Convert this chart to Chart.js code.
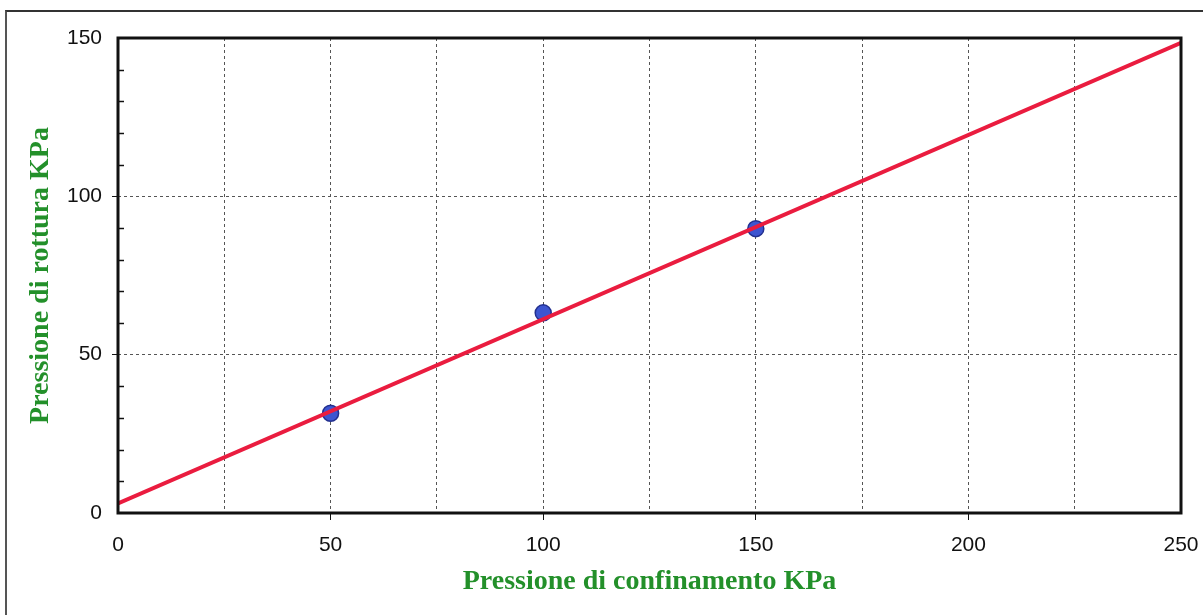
<!DOCTYPE html>
<html>
<head>
<meta charset="utf-8">
<script src="https://cdn.jsdelivr.net/npm/chart.js@4.4.1/dist/chart.umd.min.js"></script>
<style>
  body { margin: 0; background: #fff; overflow: hidden; }
  #wrap { position: relative; width: 1203px; height: 615px; }
  #frame { position: absolute; left: 5px; top: 10px; width: 1300px; height: 700px;
           border-left: 2px solid #555; border-top: 2px solid #333; }
  canvas { position: absolute; left: 0; top: 0; }
</style>
</head>
<body>
<div id="wrap">
  <div id="frame"></div>
  <canvas id="chart" width="1203" height="615"></canvas>
</div>
<script>
// measured points
const confinamento = [50, 100, 150];
const rottura = [31.5, 63.2, 89.8];
// fitted line, end points
const lineX = [0, 250];
const lineY = [3, 148.5];

const xTitle = "Pressione di confinamento KPa";
const yTitle = "Pressione di rottura KPa";

const green = "#23902a";

// box round the plot + small ticks on the y axis
const framePlugin = {
  id: "framePlugin",
  afterDraw(chart) {
    const ctx = chart.ctx;
    const a = chart.chartArea;
    const y = chart.scales.y;
    ctx.save();
    ctx.strokeStyle = "#111";
    ctx.lineWidth = 1.5;
    for (let v = 10; v < 150; v += 10) {
      if (v % 50 === 0) continue;
      const py = Math.round(y.getPixelForValue(v)) + 0.5;
      ctx.beginPath();
      ctx.moveTo(a.left, py);
      ctx.lineTo(a.left + 6, py);
      ctx.stroke();
    }
    ctx.lineWidth = 3;
    ctx.strokeRect(a.left, a.top, a.right - a.left, a.bottom - a.top);
    ctx.restore();
  }
};

const ctx = document.getElementById("chart").getContext("2d");
new Chart(ctx, {
  type: "scatter",
  data: {
    datasets: [
      {
        type: "line",
        label: "retta",
        data: lineX.map((x, i) => ({ x: x, y: lineY[i] })),
        borderColor: "#ea1c3f",
        borderWidth: 4,
        pointRadius: 0,
        fill: false
      },
      {
        label: "prove",
        data: confinamento.map((x, i) => ({ x: x, y: rottura[i] })),
        backgroundColor: "#3d55d0",
        borderColor: "#23308f",
        borderWidth: 1.5,
        pointRadius: 8
      }
    ]
  },
  options: {
    responsive: false,
    animation: false,
    layout: { padding: { left: 0, top: 38, right: 22, bottom: 0 } },
    plugins: { legend: { display: false }, tooltip: { enabled: false } },
    scales: {
      x: {
        type: "linear",
        min: 0,
        max: 250,
        afterFit: (s) => { s.height = 102; s.paddingLeft = 0; s.paddingRight = 0; },
        border: { display: false, dash: [3, 3] },
        ticks: {
          stepSize: 25,
          autoSkip: false,
          maxRotation: 0,
          padding: 13,
          color: "#111",
          font: { family: "Liberation Sans, Arial", size: 21 },
          callback: (v) => (v % 50 === 0 ? v : "")
        },
        grid: {
          color: "#555",
          lineWidth: (c) => (c.tick && (c.tick.value === 0 || c.tick.value === 250) ? 0 : 1),
          tickLength: 7,
          tickColor: (c) => (c.tick && c.tick.value % 50 === 0 ? "#111" : "rgba(0,0,0,0)"),
          tickBorderDash: []
        },
        title: {
          display: true,
          text: xTitle,
          color: green,
          font: { family: "Liberation Serif, Times New Roman", size: 28, weight: "bold" },
          padding: { top: 0, bottom: 16 }
        }
      },
      y: {
        type: "linear",
        min: 0,
        max: 150,
        afterFit: (s) => { s.width = 118; s.paddingTop = 0; s.paddingBottom = 0; },
        border: { display: false, dash: [3, 3] },
        ticks: {
          stepSize: 10,
          autoSkip: false,
          padding: 10,
          color: "#111",
          font: { family: "Liberation Sans, Arial", size: 21 },
          callback: (v) => (v % 50 === 0 ? v : "")
        },
        grid: {
          color: "#555",
          lineWidth: (c) => (c.tick && c.tick.value % 50 === 0 && c.tick.value !== 0 && c.tick.value !== 150 ? 1 : 0),
          tickLength: 6,
          tickColor: (c) => (c.tick && c.tick.value % 50 === 0 ? "#111" : "rgba(0,0,0,0)"),
          tickBorderDash: []
        },
        title: {
          display: true,
          text: yTitle,
          color: green,
          font: { family: "Liberation Serif, Times New Roman", size: 28, weight: "bold" },
          padding: { top: 24, bottom: 0 }
        }
      }
    }
  },
  plugins: [framePlugin]
});
</script>
</body>
</html>
